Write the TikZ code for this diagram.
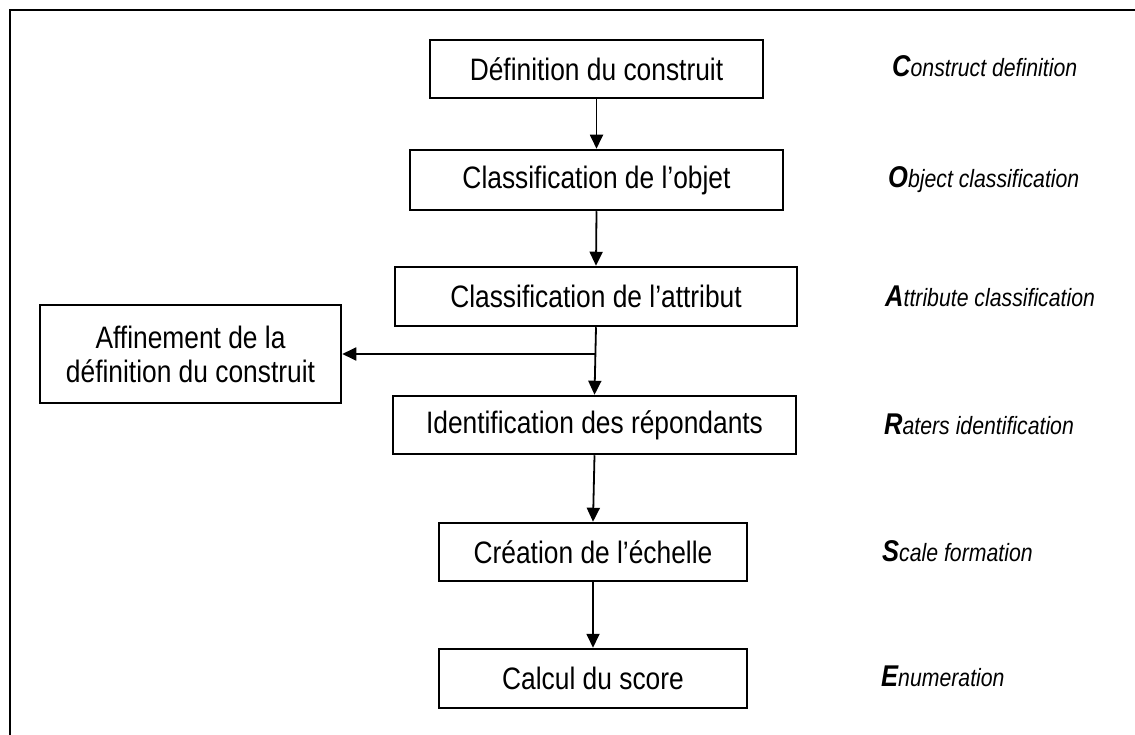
\documentclass[tikz,border=0pt]{standalone}
\usepackage{fontspec}
\setmainfont{Liberation Sans}[FakeStretch=0.85]
\usepackage{tikz}
\usetikzlibrary{positioning}
\usetikzlibrary{arrows.meta}
\tikzset{>={Triangle[width=13pt,length=14pt]}}
\newcommand{\firstletter}[1]{{\fontsize{30}{32}\selectfont\bfseries #1}}

\begin{document}
\begin{tikzpicture}[x=1pt, y=-1pt, stepbox/.style={rectangle, draw=black, line width=2.5pt, inner sep=0pt, minimum height=58pt, font=\fontsize{31}{34}\selectfont}, engnode/.style={draw=none, anchor=base west, inner sep=0pt, font=\fontsize{25}{28}\selectfont\itshape}]
    \useasboundingbox (0,0) rectangle (1135,735);
    
    %Frame
    \draw[line width=2.5pt] (1135,10) -- (10,10) -- (10,735);
    
    %Nodes
    \node[stepbox, minimum width=333pt](construct) at (596.5,69){Définition du construit};
    \node[stepbox, minimum width=373pt, minimum height=60pt](object) at (596.5,180){Classification de l'objet};
    \node[stepbox, minimum width=402pt, minimum height=59pt](attribute) at (596,296.5){Classification de l'attribut};
    \node[stepbox, minimum width=301pt, minimum height=98pt, align=center](refine) at (190.5,354){Affinement de la\\définition du construit};
    \node[stepbox, minimum width=403pt](raters) at (594.5,425){Identification des répondants};
    \node[stepbox, minimum width=308pt](scale) at (593,552){Création de l'échelle};
    \node[stepbox, minimum width=308pt, minimum height=59pt](score) at (593,678.5){Calcul du score};
    
    \node[engnode](construct_text) at (892,77){\firstletter{C}onstruct definition};
    \node[engnode](object_text) at (888,188){\firstletter{O}bject classification};
    \node[engnode](attribute_text) at (885,306){\firstletter{A}ttribute classification};
    \node[engnode](raters_text) at (884,434){\firstletter{R}aters identification};
    \node[engnode](scale_text) at (882,561){\firstletter{S}cale formation};
    \node[engnode](score_text) at (881,686){\firstletter{E}numeration};
    
    %Lines
    \draw[->, line width=1.8pt] (construct.south) -- (object.north);
    \draw[->, line width=1.8pt] (object.south) -- (attribute.north);
    \draw[->, line width=1.8pt] (attribute.south) -- (raters.north);
    \draw[->, line width=1.8pt] (attribute.south |- refine.east) -- (refine.east);
    \draw[->, line width=1.8pt] (raters.south) -- (scale.north);
    \draw[->, line width=1.8pt] (scale.south) -- (score.north);
    
\end{tikzpicture}
\end{document}
